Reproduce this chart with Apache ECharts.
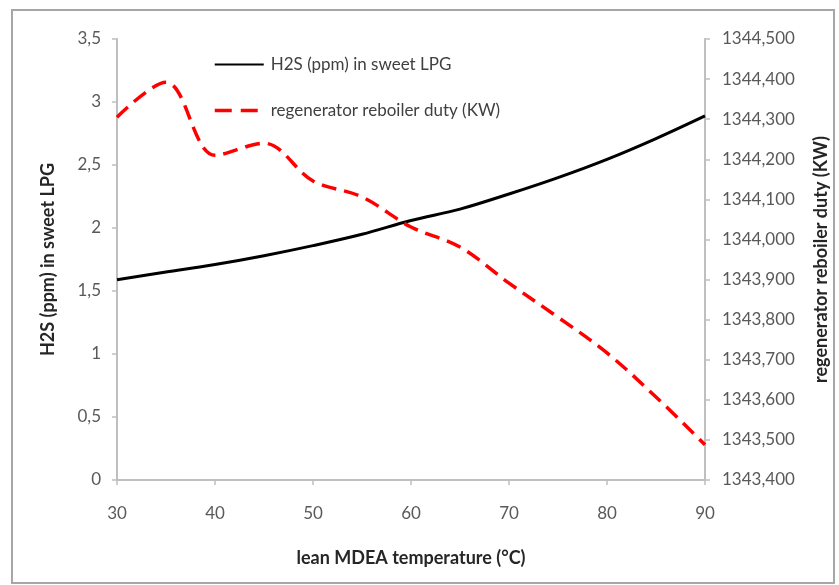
<!DOCTYPE html>
<html>
<head>
<meta charset="utf-8">
<script src="https://cdn.jsdelivr.net/npm/echarts@6/dist/echarts.min.js"></script>
<style>
html,body{margin:0;padding:0;background:#fff;}
#c{width:839px;height:585px;}
</style>
</head>
<body>
<div id="c"></div>
<script>
const temps = [30, 35, 40, 45, 50, 55, 60, 65, 70, 75, 80, 85, 90];
const h2s = [1.59, 1.65, 1.71, 1.78, 1.86, 1.95, 2.06, 2.15, 2.27, 2.40, 2.545, 2.71, 2.89];
const duty = [1344305, 1344392, 1344210, 1344240, 1344146, 1344106, 1344031, 1343981, 1343891, 1343806, 1343717, 1343607, 1343488];
const seriesNames = ['H2S (ppm) in sweet LPG', 'regenerator reboiler duty (KW)'];
const xTitle = 'lean MDEA temperature (°C)';
const leftTitle = 'H2S (ppm) in sweet LPG';
const rightTitle = 'regenerator reboiler duty (KW)';

const FONT = 'Lato';
const axisGray = '#bfbfbf';
const labelColor = '#595959';

const chart = echarts.init(document.getElementById('c'), null, {renderer: 'canvas'});
chart.setOption({
  animation: false,
  backgroundColor: '#fff',
  graphic: [{
    type: 'rect', z: -10,
    shape: {x: 12, y: 10, width: 822, height: 573},
    style: {fill: 'none', stroke: '#a6a6a6', lineWidth: 2}
  }],
  grid: {left: 117, right: 134, top: 39, bottom: 105, containLabel: false},
  legend: {
    orient: 'vertical', left: 208, top: 51,
    itemWidth: 49, itemHeight: 14, itemGap: 29,
    itemStyle: {opacity: 0},
    textStyle: {fontFamily: FONT, fontSize: 17, color: '#404040', padding: [0, 0, 0, 2]},
    data: [
      {name: seriesNames[0]},
      {name: seriesNames[1], lineStyle: {type: [17, 9], width: 3.5, color: '#ff0000'}}
    ]
  },
  xAxis: {
    type: 'value', min: 30, max: 90, interval: 10,
    name: xTitle, nameLocation: 'middle', nameGap: 69,
    nameTextStyle: {fontFamily: FONT, fontSize: 18, fontWeight: 'bold', color: '#262626'},
    axisLine: {lineStyle: {color: axisGray, width: 2}},
    axisTick: {show: true, length: 5, lineStyle: {color: axisGray, width: 1.5}},
    axisLabel: {fontFamily: FONT, fontSize: 17, color: labelColor, margin: 25},
    splitLine: {show: false}
  },
  yAxis: [{
    type: 'value', min: 0, max: 3.5, interval: 0.5, position: 'left',
    name: leftTitle, nameLocation: 'middle', nameGap: 60, nameRotate: 90,
    nameTextStyle: {fontFamily: FONT, fontSize: 18, fontWeight: 'bold', color: '#262626'},
    axisLine: {show: true, lineStyle: {color: axisGray, width: 2}},
    axisTick: {show: true, length: 5, lineStyle: {color: axisGray, width: 1.5}},
    axisLabel: {fontFamily: FONT, fontSize: 17, color: labelColor, margin: 16,
      formatter: v => String(v).replace('.', ',')},
    splitLine: {show: false}
  }, {
    type: 'value', min: 1343400, max: 1344500, interval: 100, position: 'right',
    name: rightTitle, nameLocation: 'middle', nameGap: 107, nameRotate: 90,
    nameTextStyle: {fontFamily: FONT, fontSize: 18, fontWeight: 'bold', color: '#262626'},
    axisLine: {show: true, lineStyle: {color: axisGray, width: 2}},
    axisTick: {show: true, length: 5, lineStyle: {color: axisGray, width: 1.5}},
    axisLabel: {fontFamily: FONT, fontSize: 17, color: labelColor, margin: 17,
      formatter: v => {
        const k = Math.floor(v / 1000);
        const r = Math.round(v - k * 1000);
        return k + ',' + String(r).padStart(3, '0');
      }},
    splitLine: {show: false}
  }],
  series: [{
    name: seriesNames[0], type: 'line', yAxisIndex: 0,
    data: temps.map((t, i) => [t, h2s[i]]),
    smooth: 0.35, symbol: 'none',
    lineStyle: {color: '#000', width: 3},
    itemStyle: {color: '#000'}
  }, {
    name: seriesNames[1], type: 'line', yAxisIndex: 1,
    data: temps.map((t, i) => [t, duty[i]]),
    smooth: 0.35, symbol: 'none',
    lineStyle: {color: '#ff0000', width: 3.5, type: [15, 8]},
    itemStyle: {color: '#ff0000'}
  }]
});
</script>
</body>
</html>
